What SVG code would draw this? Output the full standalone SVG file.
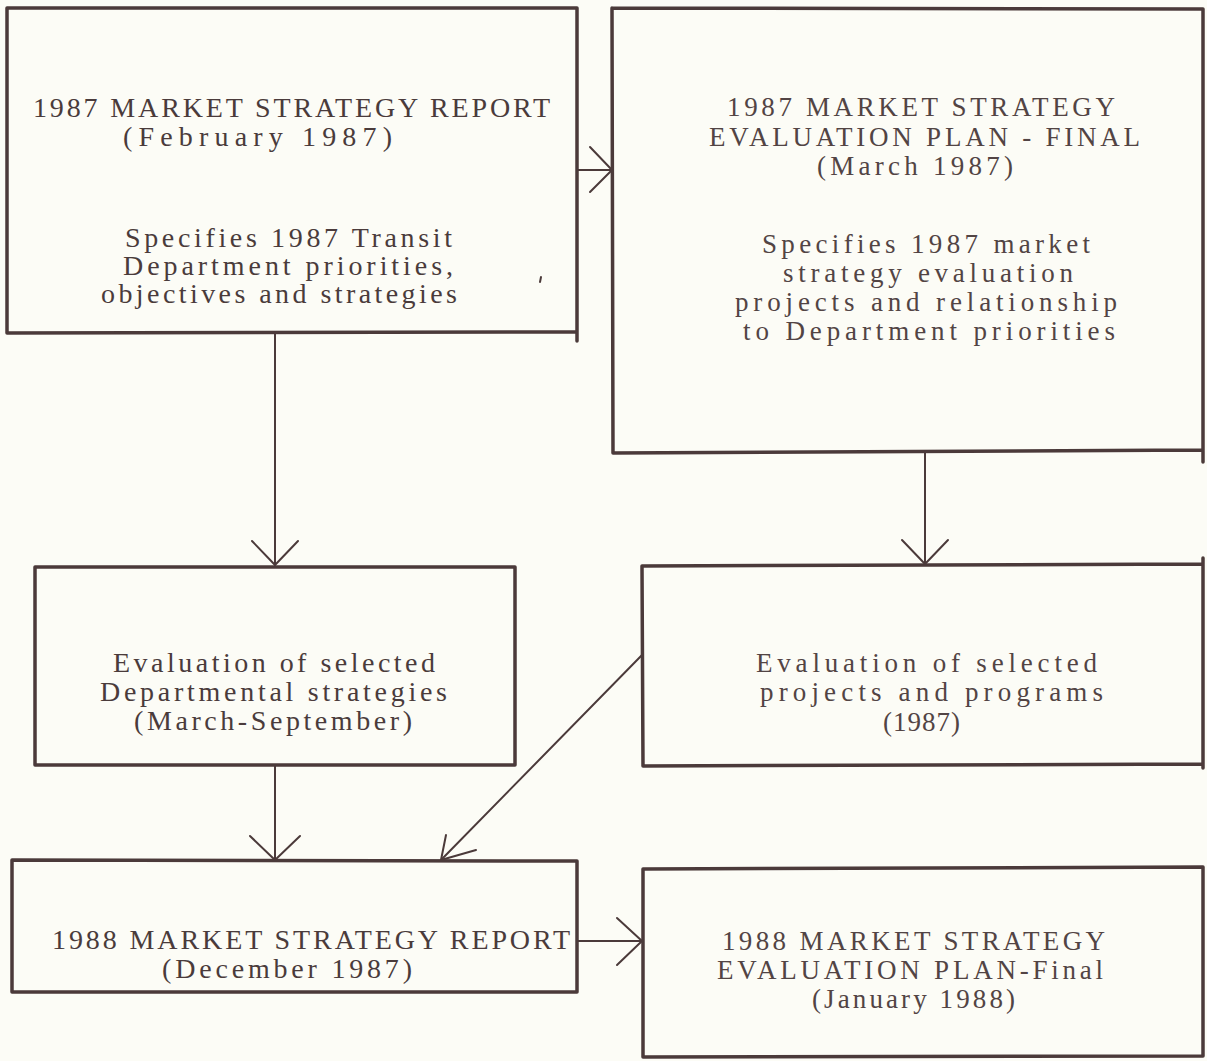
<svg xmlns="http://www.w3.org/2000/svg" width="1207" height="1061" viewBox="0 0 1207 1061">
  <style>
    .box { fill: none; stroke: #4b3a3a; stroke-width: 3.5; stroke-linecap: round; stroke-linejoin: round; }
    .conn { fill: none; stroke: #4b3a3a; stroke-width: 2; stroke-linecap: round; stroke-linejoin: round; }
    .t { font-family: "Liberation Serif", "DejaVu Serif", serif; font-size: 28px; fill: #4a3b3b; }
    .t2 { font-family: "Liberation Serif", "DejaVu Serif", serif; font-size: 27px; fill: #524444; }
  </style>
  <rect width="1207" height="1061" fill="#fcfcf6"/>

  <g id="connectors">
    <!-- report 1987 -> evaluation plan 1987 -->
    <line class="conn" x1="577" y1="170" x2="612" y2="170"/>
    <polyline class="conn" points="590,147 612,170 590,192"/>
    <!-- report 1987 -> departmental evaluation -->
    <line class="conn" x1="275" y1="333" x2="275" y2="565"/>
    <polyline class="conn" points="252,541 275,565 298,541"/>
    <!-- evaluation plan 1987 -> projects evaluation -->
    <line class="conn" x1="925" y1="453" x2="925" y2="564"/>
    <polyline class="conn" points="902,540 925,564 948,540"/>
    <!-- departmental evaluation -> report 1988 -->
    <line class="conn" x1="275" y1="765" x2="275" y2="860"/>
    <polyline class="conn" points="250,836 275,860 300,836"/>
    <!-- projects evaluation -> report 1988 -->
    <line class="conn" x1="642" y1="655" x2="441" y2="860"/>
    <polyline class="conn" points="446,835 441,860 476,850"/>
    <!-- report 1988 -> evaluation plan 1988 -->
    <line class="conn" x1="577" y1="941" x2="642" y2="941"/>
    <polyline class="conn" points="617,918 642,941 617,965"/>
  </g>

  <g id="report-1987">
    <path class="box" d="M7,8 L577,8 M7,8 L7,333 L577,332 M577,8 L577,341"/>
    <text class="t" x="33" y="117" textLength="517">1987 MARKET STRATEGY REPORT</text>
    <text class="t" x="123" y="146" textLength="269">(February 1987)</text>
    <text class="t" x="125" y="247" textLength="327">Specifies 1987 Transit</text>
    <text class="t" x="123" y="275" textLength="330">Department priorities,</text>
    <text class="t" x="101" y="303" textLength="356">objectives and strategies</text>
    <line class="conn" x1="541" y1="277" x2="540" y2="282" stroke-width="1.2"/>
  </g>

  <g id="plan-1987">
    <path class="box" d="M612,8 L1203,9 M612,8 L613,453 L1203,450 M1203,9 L1203,462"/>
    <text class="t2" x="727" y="116" textLength="388">1987 MARKET STRATEGY</text>
    <text class="t2" x="709" y="146" textLength="431">EVALUATION PLAN - FINAL</text>
    <text class="t2" x="817" y="175" textLength="196">(March 1987)</text>
    <text class="t2" x="762" y="253" textLength="328">Specifies 1987 market</text>
    <text class="t2" x="783" y="282" textLength="290">strategy evaluation</text>
    <text class="t2" x="735" y="311" textLength="382">projects and relationship</text>
    <text class="t2" x="743" y="340" textLength="372">to Department priorities</text>
  </g>

  <g id="eval-departmental">
    <path class="box" d="M35,567 L515,567 L515,765 L35,765 Z"/>
    <text class="t" x="113" y="672" textLength="322">Evaluation of selected</text>
    <text class="t" x="100" y="701" textLength="347">Departmental strategies</text>
    <text class="t" x="134" y="730" textLength="278">(March-September)</text>
  </g>

  <g id="eval-projects">
    <path class="box" d="M642,566 L1203,564 M642,566 L643,766 L1203,764 M1203,558 L1203,768"/>
    <text class="t2" x="756" y="672" textLength="341">Evaluation of selected</text>
    <text class="t2" x="760" y="701" textLength="343">projects and programs</text>
    <text class="t2" x="883" y="731" textLength="77">(1987)</text>
  </g>

  <g id="report-1988">
    <path class="box" d="M12,860 L577,861 L577,992 L12,992 Z"/>
    <text class="t" x="52" y="949" textLength="518">1988 MARKET STRATEGY REPORT</text>
    <text class="t" x="162" y="978" textLength="250">(December 1987)</text>
  </g>

  <g id="plan-1988">
    <path class="box" d="M643,869 L1203,867 L1203,1056 L643,1057 Z"/>
    <text class="t2" x="722" y="950" textLength="383">1988 MARKET STRATEGY</text>
    <text class="t2" x="717" y="979" textLength="386">EVALUATION PLAN-Final</text>
    <text class="t2" x="812" y="1008" textLength="203">(January 1988)</text>
  </g>
</svg>
